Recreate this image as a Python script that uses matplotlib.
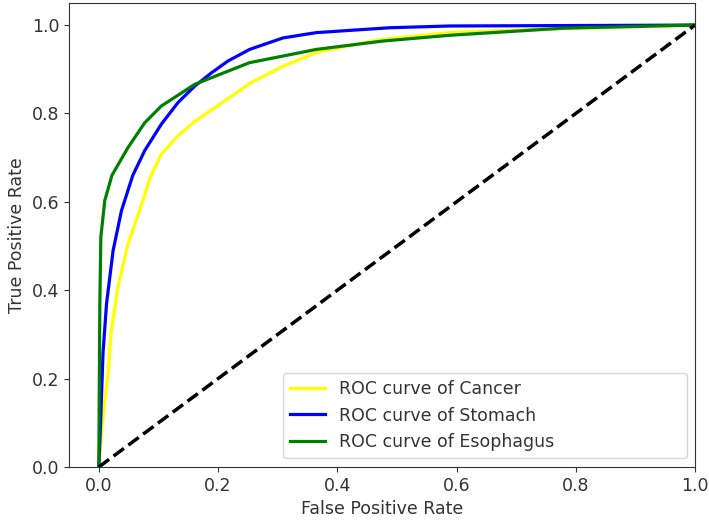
import matplotlib
matplotlib.use("Agg")
import matplotlib.pyplot as plt

fpr_cancer = [0, 0.005, 0.010, 0.016, 0.021, 0.032, 0.049, 0.072, 0.086, 0.105, 0.133, 0.161, 0.217,
              0.253, 0.309, 0.365, 0.421, 0.477, 0.589, 0.7, 0.8, 0.9, 1.0]
tpr_cancer = [0, 0.08, 0.15, 0.219, 0.309, 0.407, 0.505, 0.595, 0.655, 0.708, 0.750, 0.782, 0.834,
              0.868, 0.907, 0.938, 0.954, 0.968, 0.983, 0.989, 0.993, 0.997, 1.0]

fpr_stomach = [0, 0.003, 0.007, 0.013, 0.024, 0.038, 0.057, 0.077, 0.105, 0.133, 0.161, 0.189, 0.217,
               0.253, 0.309, 0.365, 0.488, 0.589, 0.8, 1.0]
tpr_stomach = [0, 0.1, 0.257, 0.370, 0.490, 0.580, 0.660, 0.716, 0.776, 0.825, 0.862, 0.892, 0.919,
               0.945, 0.971, 0.983, 0.994, 0.998, 0.999, 1.0]

fpr_eso = [0, 0.001, 0.0017, 0.0034, 0.010, 0.022, 0.049, 0.077, 0.105, 0.161, 0.217, 0.253, 0.365,
           0.477, 0.589, 0.779, 1.0]
tpr_eso = [0, 0.22, 0.37, 0.52, 0.603, 0.66, 0.723, 0.779, 0.817, 0.866, 0.896, 0.915, 0.945,
           0.964, 0.977, 0.993, 1.0]

labels = ["ROC curve of Cancer", "ROC curve of Stomach", "ROC curve of Esophagus"]
colors = ["#FFFF00", "#0000FF", "#008000"]

fig = plt.figure(figsize=(7.09, 5.21), dpi=100)
ax = fig.add_axes([69/709, 1-467/521, 626/709, 464/521])

for fx, ty, lab, c in zip([fpr_cancer, fpr_stomach, fpr_eso], [tpr_cancer, tpr_stomach, tpr_eso], labels, colors):
    ax.plot(fx, ty, color=c, lw=2.3, label=lab, solid_joinstyle="round")
ax.plot([0, 1], [0, 1], color="black", lw=2.5, ls="--")

ax.set_xlim(-0.05, 1.0)
ax.set_ylim(0.0, 1.05)
ax.set_xticks([0.0, 0.2, 0.4, 0.6, 0.8, 1.0])
ax.set_yticks([0.0, 0.2, 0.4, 0.6, 0.8, 1.0])
ax.tick_params(labelsize=12.5, colors="#333333", labelcolor="#333333")
for s in ax.spines.values():
    s.set_color("#333333")
ax.set_xlabel("False Positive Rate", fontsize=12.5, color="#333333")
ax.set_ylabel("True Positive Rate", fontsize=12.5, color="#333333")
leg = ax.legend(loc="lower left", bbox_to_anchor=(0.342, 0.019, 0.645, 0.18), mode="expand",
                borderaxespad=0, fontsize=12.5)
for t in leg.get_texts():
    t.set_color("#333333")

fig.savefig("out.png", dpi=100)
